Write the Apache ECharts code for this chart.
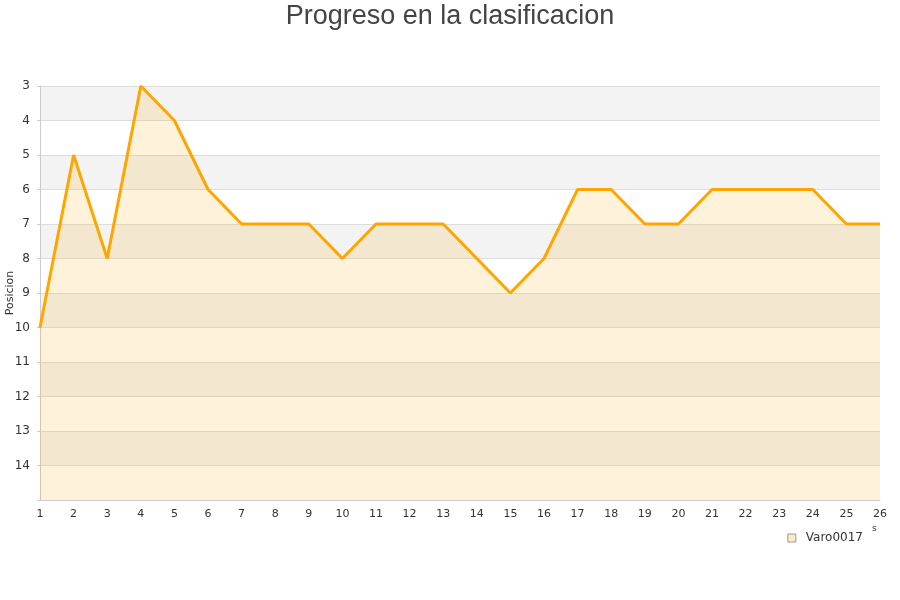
<!DOCTYPE html>
<html><head><meta charset="utf-8">
<script src="https://cdn.jsdelivr.net/npm/echarts@6/dist/echarts.min.js"></script>
<style>html,body{margin:0;padding:0;background:#fff}#c{width:900px;height:600px}</style>
</head><body><div id="c"></div>
<script>
const jornadas = [1,2,3,4,5,6,7,8,9,10,11,12,13,14,15,16,17,18,19,20,21,22,23,24,25,26];
const posiciones = [10,5,8,3,4,6,7,7,7,8,7,7,7,8,9,8,6,6,7,7,6,6,6,6,7,7];
const seriesName = 'Varo0017';
const chart = echarts.init(document.getElementById('c'));
chart.setOption({
  animation:false,
  title:{text:'Progreso en la clasificacion',left:'center',top:-2,textStyle:{fontSize:27,fontWeight:'normal',color:'#444',fontFamily:'Liberation Sans'}},
  legend:{right:32,top:527,itemWidth:8,itemHeight:8,icon:'rect',textStyle:{fontSize:12,color:'#333',fontFamily:'DejaVu Sans',padding:[0,0,0,5]},
    data:[{name:seriesName,itemStyle:{color:'#fdebc8',borderColor:'#999',borderWidth:1}}]},
  grid:{left:40,right:20,top:86,bottom:100,containLabel:false,outerBoundsMode:'none'},
  xAxis:{type:'value',min:1,max:26,interval:1,
    axisLine:{lineStyle:{color:'#ccc'}},axisTick:{show:false},splitLine:{show:false},
    axisLabel:{color:'#333',fontSize:11,margin:9,fontFamily:'DejaVu Sans'}},
  yAxis:{type:'value',inverse:true,min:3,max:15,interval:1,name:'Posicion',nameLocation:'middle',nameGap:24,nameMoveOverlap:false,
    nameTextStyle:{fontSize:11,color:'#333',fontFamily:'DejaVu Sans'},
    axisLine:{show:true,lineStyle:{color:'#ccc'}},axisTick:{show:true,length:3,lineStyle:{color:'#ccc'}},
    axisLabel:{color:'#333',fontSize:12,margin:10,fontFamily:'DejaVu Sans',formatter:v=>v===15?'':v},
    splitLine:{show:true,lineStyle:{color:'#ddd'}},
    splitArea:{show:true,areaStyle:{color:['#f3f3f3','#ffffff']}}},
  graphic:[{type:'text',left:872,top:524,style:{text:'s',fontSize:9,fill:'#333',fontFamily:'DejaVu Sans'}}],
  series:[{name:seriesName,type:'line',data:jornadas.map((j,i)=>[j,posiciones[i]]),showSymbol:false,symbol:'none',
    lineStyle:{color:'#FFA500',width:3},itemStyle:{color:'#fdebc8'},
    areaStyle:{color:'rgba(255,165,0,0.2)',origin:'end'}}]
});
</script></body></html>
